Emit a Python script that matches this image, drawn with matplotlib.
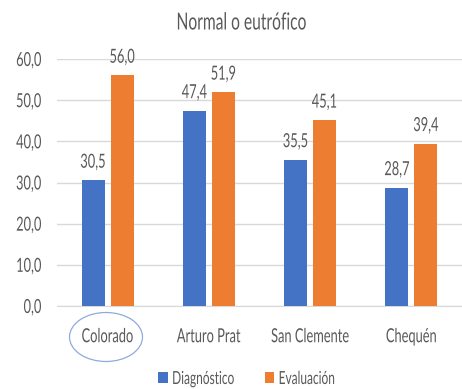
import matplotlib.pyplot as plt
import numpy as np
from matplotlib.patches import Ellipse
from matplotlib.patheffects import AbstractPathEffect
from matplotlib.transforms import Affine2D

plt.rcParams['font.family'] = ['Lato', 'DejaVu Sans']

categorias = ['Colorado', 'Arturo Prat', 'San Clemente', 'Chequén']
diagnostico = [30.5, 47.4, 35.5, 28.7]
evaluacion = [56.0, 51.9, 45.1, 39.4]
series = ['Diagnóstico', 'Evaluación']
ticks_y = [0, 10, 20, 30, 40, 50, 60]

AZUL = '#4472C4'
NARANJA = '#ED7D31'
TEXTO = '#595959'
GRILLA = '#D9D9D9'
ESTRECHO = 0.66  # el texto del original se ve angosto (imagen comprimida)


class Estrecho(AbstractPathEffect):
    """Comprime el texto en horizontal alrededor de un ancla."""

    def __init__(self, sx=ESTRECHO, ancla='center'):
        super().__init__()
        self.sx = sx
        self.ancla = ancla

    def draw_path(self, renderer, gc, tpath, affine, rgbFace=None):
        ext = tpath.get_extents(affine)
        if self.ancla == 'left':
            cx = ext.x0
        elif self.ancla == 'right':
            cx = ext.x1
        else:
            cx = (ext.x0 + ext.x1) / 2
        t = affine + Affine2D().translate(-cx, 0).scale(self.sx, 1).translate(cx, 0)
        renderer.draw_path(gc, tpath, t, rgbFace)


fig = plt.figure(figsize=(4.62, 3.89), dpi=100)
ax = fig.add_axes([57 / 462, 83 / 389, 1 - 57 / 462, 247 / 389])

x = np.arange(len(categorias))
ancho = 0.226
desp = 0.143

b1 = ax.bar(x - desp, diagnostico, ancho, color=AZUL, label=series[0], zorder=3)
b2 = ax.bar(x + desp, evaluacion, ancho, color=NARANJA, label=series[1], zorder=3)

# etiquetas de datos con coma decimal
for barras, valores in ((b1, diagnostico), (b2, evaluacion)):
    for rect, v in zip(barras, valores):
        ax.annotate(f'{v:.1f}'.replace('.', ','),
                    (rect.get_x() + rect.get_width() / 2, v),
                    xytext=(0, 7), textcoords='offset points',
                    ha='center', va='bottom', fontsize=14, color=TEXTO,
                    path_effects=[Estrecho()])

ax.set_xlim(-0.5, len(categorias) - 0.5)
ax.set_ylim(0, 60)
ax.set_yticks(ticks_y)
etq_y = ax.set_yticklabels([f'{t:.1f}'.replace('.', ',') for t in ticks_y])
ax.set_xticks(x)
etq_x = ax.set_xticklabels(categorias)
ax.tick_params(axis='both', length=0, labelsize=14, labelcolor=TEXTO)
ax.tick_params(axis='y', pad=11)
ax.tick_params(axis='x', pad=16)
for t in etq_y:
    t.set_path_effects([Estrecho(ancla='right')])
for t in etq_x:
    t.set_path_effects([Estrecho()])
ax.yaxis.grid(True, color=GRILLA, linewidth=1, zorder=0)
for lado in ['top', 'right', 'left']:
    ax.spines[lado].set_visible(False)
ax.spines['bottom'].set_color(GRILLA)

fig.text(0.522, 1 - 23 / 389, 'Normal o eutrófico', ha='center', va='center',
         fontsize=17, color=TEXTO, path_effects=[Estrecho()])

# elipse alrededor de Colorado
fig.patches.append(Ellipse((106 / 462, 1 - 337 / 389), 73 / 462, 49 / 389,
                           transform=fig.transFigure, fill=False,
                           edgecolor='#8FAADC', linewidth=0.9))

leg = fig.legend(handles=[b1, b2], labels=series, loc='center left',
                 bbox_to_anchor=(158 / 462, 1 - 379 / 389), ncol=2, frameon=False,
                 fontsize=13, labelcolor=TEXTO, handlelength=0.55, handleheight=0.6,
                 handletextpad=0.2, columnspacing=-0.05, borderpad=0, borderaxespad=0)
for t in leg.get_texts():
    t.set_path_effects([Estrecho(ancla='left')])

fig.savefig('out.png', dpi=100)
